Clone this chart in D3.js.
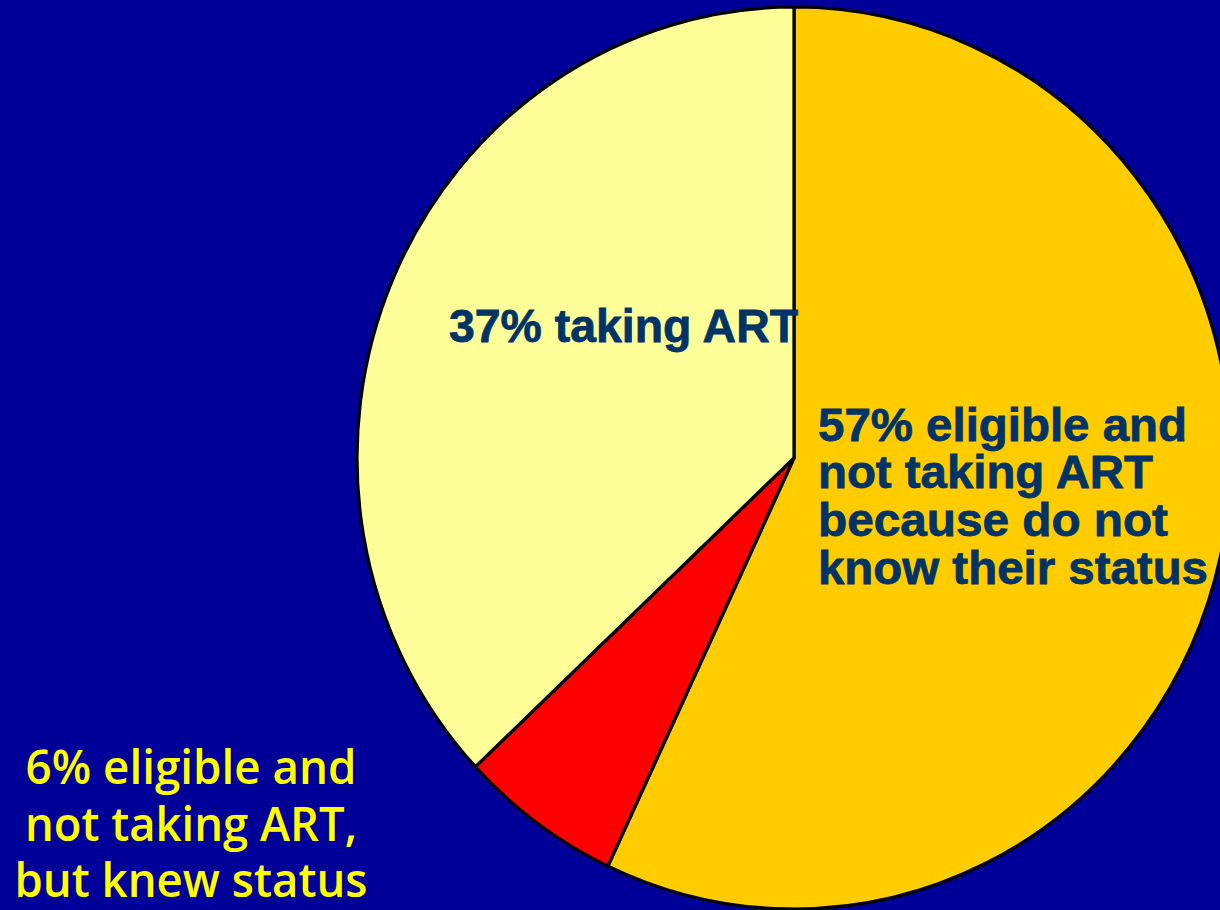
<!DOCTYPE html>
<html>
<head>
<meta charset="utf-8">
<script src="https://cdn.jsdelivr.net/npm/d3@7"></script>
<style>
  html, body { margin: 0; padding: 0; background: #000099; }
  svg { display: block; }
</style>
</head>
<body>
<svg id="chart" width="1220" height="910"></svg>
<script>
// Share of people eligible for ART, by treatment / status-awareness group
const categories = [
  "eligible, not taking ART, do not know status",
  "eligible, not taking ART, knew status",
  "taking ART"
];
const values = [57, 6, 37];
const sliceColors = ["#FFCC00", "#FF0000", "#FFFF99"];

const labelLines = [
  ["57% eligible and", "not taking ART", "because do not", "know their status"],
  ["6% eligible and", "not taking ART,", "but knew status"],
  ["37% taking ART"]
];

const W = 1220, H = 910;
const cx = 794, cy = 458;
const rx = 437, ry = 451;

const svg = d3.select("#chart");

svg.append("rect").attr("width", W).attr("height", H).attr("fill", "#000099");

const pie = d3.pie().sort(null).value(d => d.value);
const arcs = pie(values.map((v, i) => ({ name: categories[i], value: v, color: sliceColors[i] })));
const arc = d3.arc().innerRadius(0).outerRadius(ry);

const pieG = svg.append("g")
  .attr("transform", `translate(${cx},${cy}) scale(${rx / ry},1)`);

pieG.selectAll("path")
  .data(arcs)
  .join("path")
  .attr("d", arc)
  .attr("fill", d => d.data.color)
  .attr("stroke", "#000")
  .attr("stroke-width", 3.2)
  .attr("stroke-linejoin", "round")
  .attr("vector-effect", "non-scaling-stroke");

// Labels
const navy = "#003366";

function pieLabel(text, x, y, width) {
  svg.append("text")
    .attr("x", x).attr("y", y)
    .attr("font-family", "'Liberation Sans', Arial, sans-serif")
    .attr("font-weight", "bold")
    .attr("font-size", 47)
    .attr("fill", navy)
    .attr("stroke", navy)
    .attr("stroke-width", 0.8)
    .attr("textLength", width)
    .attr("lengthAdjust", "spacingAndGlyphs")
    .text(text);
}

// taking ART (inside the pale slice)
pieLabel(labelLines[2][0], 449, 342, 349);

// do not know status (inside the large slice)
const rightWidths = [369, 335, 350, 390];
const rightBase = [441, 488, 536, 584];
labelLines[0].forEach((line, i) => pieLabel(line, 818, rightBase[i], rightWidths[i]));

// knew status (outside, bottom left)
const leftWidths = [331, 332, 353];
const leftBase = [784, 841, 897];
labelLines[1].forEach((line, i) => {
  svg.append("text")
    .attr("x", 191).attr("y", leftBase[i])
    .attr("text-anchor", "middle")
    .attr("font-family", "'Open Sans', 'DejaVu Sans', sans-serif")
    .attr("font-weight", 600)
    .attr("font-size", 47)
    .attr("fill", "#FFFF00")
    .attr("textLength", leftWidths[i])
    .attr("lengthAdjust", "spacingAndGlyphs")
    .text(line);
});
</script>
</body>
</html>
